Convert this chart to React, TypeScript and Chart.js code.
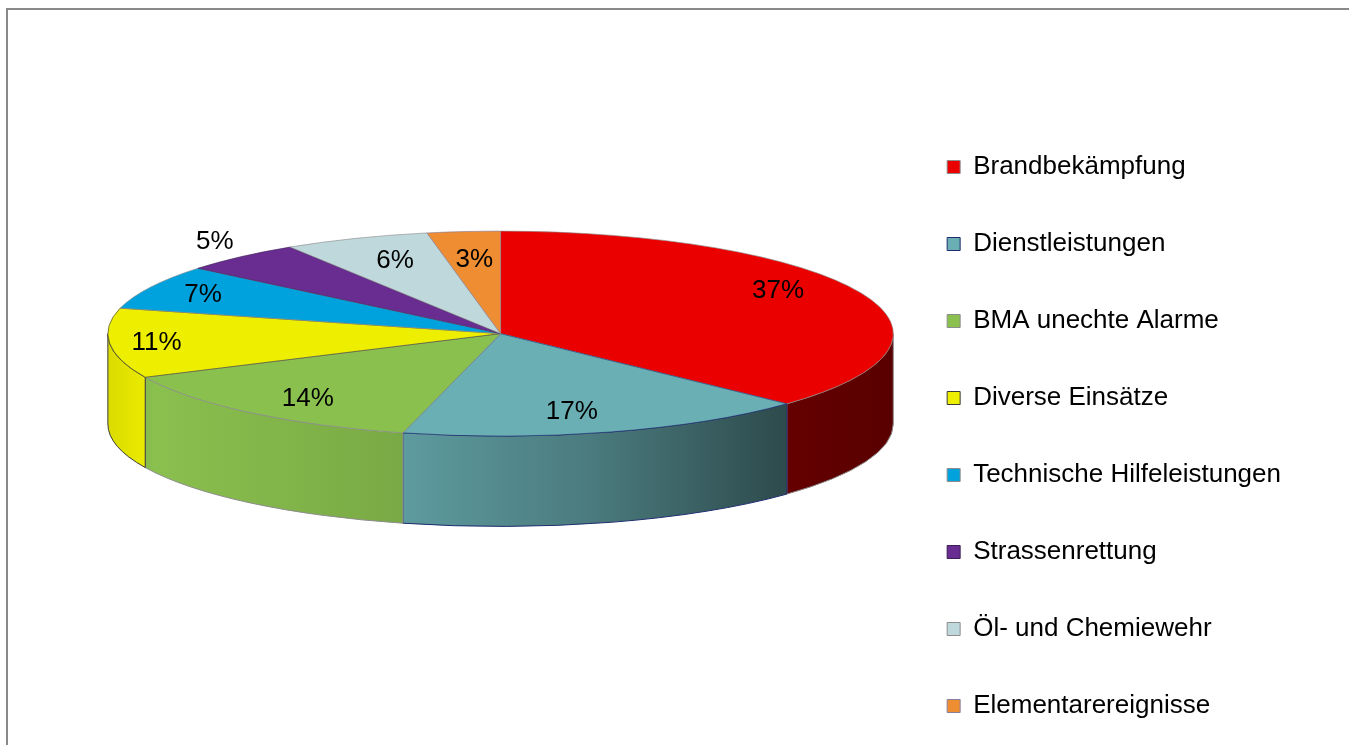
import React, { useEffect, useRef } from 'react';
import { Chart, registerables } from 'chart.js';

Chart.register(...registerables);

// ---- data ----
const categories = [
  'Brandbekämpfung',
  'Dienstleistungen',
  'BMA unechte Alarme',
  'Diverse Einsätze',
  'Technische Hilfeleistungen',
  'Strassenrettung',
  'Öl- und Chemiewehr',
  'Elementarereignisse',
];
const shares = [37, 17, 14, 11, 7, 5, 6, 3];

// ---- styles ----
const sliceColors = ['#EB0000', '#6AAFB3', '#8AC04E', '#EEEE00', '#00A2DE', '#692D91', '#BED8DB', '#EE8D31'];
const edgeColors = ['#8C8C8C', '#1E2C6E', '#8C8C8C', '#3A3A3A', '#8C8C8C', '#3B1F55', '#8C8C8C', '#8A7E9E'];
// label placement (fraction of radius, horizontal / vertical)
const labelFx = [0.77, 0.65, 0.77, 0.88, 0.85, 1.1, 0.73, 0.71];
const labelFy = [1.06, 0.79, 0.83, 0.94, 0.83, 1.2, 0.76, 0.72];

const FONT = '"Liberation Sans", Arial, Helvetica, sans-serif';
const TILT = 0.261; // ry / rx
const DEPTH = 0.23; // wall height / rx
const LIFT = 0.262; // upward shift of the top face / rx
const CANVAS_W = 1341;
const CANVAS_H = 853;

// wall shading across the pie width: [position, brightness]
const wallShade: [number, number][] = [
  [0, 0.92],
  [0.06, 1.0],
  [0.38, 0.88],
  [0.62, 0.7],
  [0.86, 0.43],
  [1, 0.38],
];

function shade(hex: string, f: number) {
  const n = parseInt(hex.slice(1), 16);
  const r = Math.round(((n >> 16) & 255) * f);
  const g = Math.round(((n >> 8) & 255) * f);
  const b = Math.round((n & 255) * f);
  return `rgb(${r},${g},${b})`;
}

const pie3d = {
  id: 'pie3d',
  beforeDatasetsDraw(chart: any) {
    const meta = chart.getDatasetMeta(0);
    const arcs = meta.data;
    const ctx = chart.ctx as CanvasRenderingContext2D;
    ctx.save();
    if (!arcs.length) return;
    const a0 = arcs[0];
    const cx = a0.x;
    const cy = a0.y;
    const rx = a0.outerRadius;
    const ry = rx * TILT;
    const top = cy - rx * LIFT;
    const depth = rx * DEPTH;
    arcs.forEach((arc: any, i: number) => {
      const lo = Math.max(arc.startAngle, 0);
      const hi = Math.min(arc.endAngle, Math.PI);
      if (hi <= lo) return;
      const grad = ctx.createLinearGradient(cx - rx, 0, cx + rx, 0);
      wallShade.forEach(([p, f]) => grad.addColorStop(p, shade(sliceColors[i], f)));
      ctx.beginPath();
      ctx.ellipse(cx, top, rx, ry, 0, lo, hi, false);
      ctx.lineTo(cx + rx * Math.cos(hi), top + ry * Math.sin(hi) + depth);
      ctx.ellipse(cx, top + depth, rx, ry, 0, hi, lo, true);
      ctx.closePath();
      ctx.fillStyle = grad;
      ctx.fill();
      ctx.lineWidth = 1;
      ctx.strokeStyle = edgeColors[i];
      ctx.stroke();
    });
    ctx.translate(cx, top);
    ctx.scale(1, TILT);
    ctx.translate(-cx, -cy);
  },
  afterDatasetsDraw(chart: any) {
    const ctx = chart.ctx as CanvasRenderingContext2D;
    ctx.restore();
    const meta = chart.getDatasetMeta(0);
    const arcs = meta.data;
    if (!arcs.length) return;
    const a0 = arcs[0];
    const cx = a0.x;
    const cy = a0.y;
    const rx = a0.outerRadius;
    const ry = rx * TILT;
    const top = cy - rx * LIFT;
    ctx.save();
    ctx.font = `26px ${FONT}`;
    ctx.fillStyle = '#000';
    ctx.textAlign = 'center';
    ctx.textBaseline = 'middle';
    arcs.forEach((arc: any, i: number) => {
      const mid = (arc.startAngle + arc.endAngle) / 2;
      const x = cx + rx * labelFx[i] * Math.cos(mid);
      const y = top + ry * labelFy[i] * Math.sin(mid);
      ctx.fillText(`${shares[i]}%`, x, y);
    });
    ctx.restore();
  },
};

export default function App() {
  const ref = useRef<HTMLCanvasElement | null>(null);
  useEffect(() => {
    if (!ref.current) return;
    const chart = new Chart(ref.current, {
      type: 'pie',
      data: {
        labels: categories,
        datasets: [
          {
            data: shares,
            backgroundColor: sliceColors,
            borderColor: edgeColors,
            borderWidth: 1,
          },
        ],
      },
      options: {
        responsive: true,
        maintainAspectRatio: false,
        animation: false,
        devicePixelRatio: 1,
        events: [],
        radius: '99.4%',
        layout: { padding: { left: 97, right: 58, top: 0, bottom: 0 } },
        plugins: {
          tooltip: { enabled: false },
          legend: {
            position: 'right',
            align: 'center',
            labels: {
              boxWidth: 13,
              boxHeight: 13,
              padding: 51,
              color: '#000',
              font: { family: FONT, size: 26 },
            },
          },
        },
      } as any,
      plugins: [pie3d],
    });
    return () => chart.destroy();
  }, []);
  return (
    <div style={{ position: 'fixed', left: 0, top: 0, width: '100vw', height: '100vh', overflow: 'hidden', background: '#fff' }}>
      <div
        style={{
          position: 'absolute',
          left: 6,
          top: 8,
          borderTop: '2px solid #898989',
          borderLeft: '2px solid #898989',
        }}
      >
        <div style={{ position: 'relative', width: CANVAS_W, height: CANVAS_H }}>
          <canvas ref={ref} style={{ display: 'block' }} />
        </div>
      </div>
    </div>
  );
}
